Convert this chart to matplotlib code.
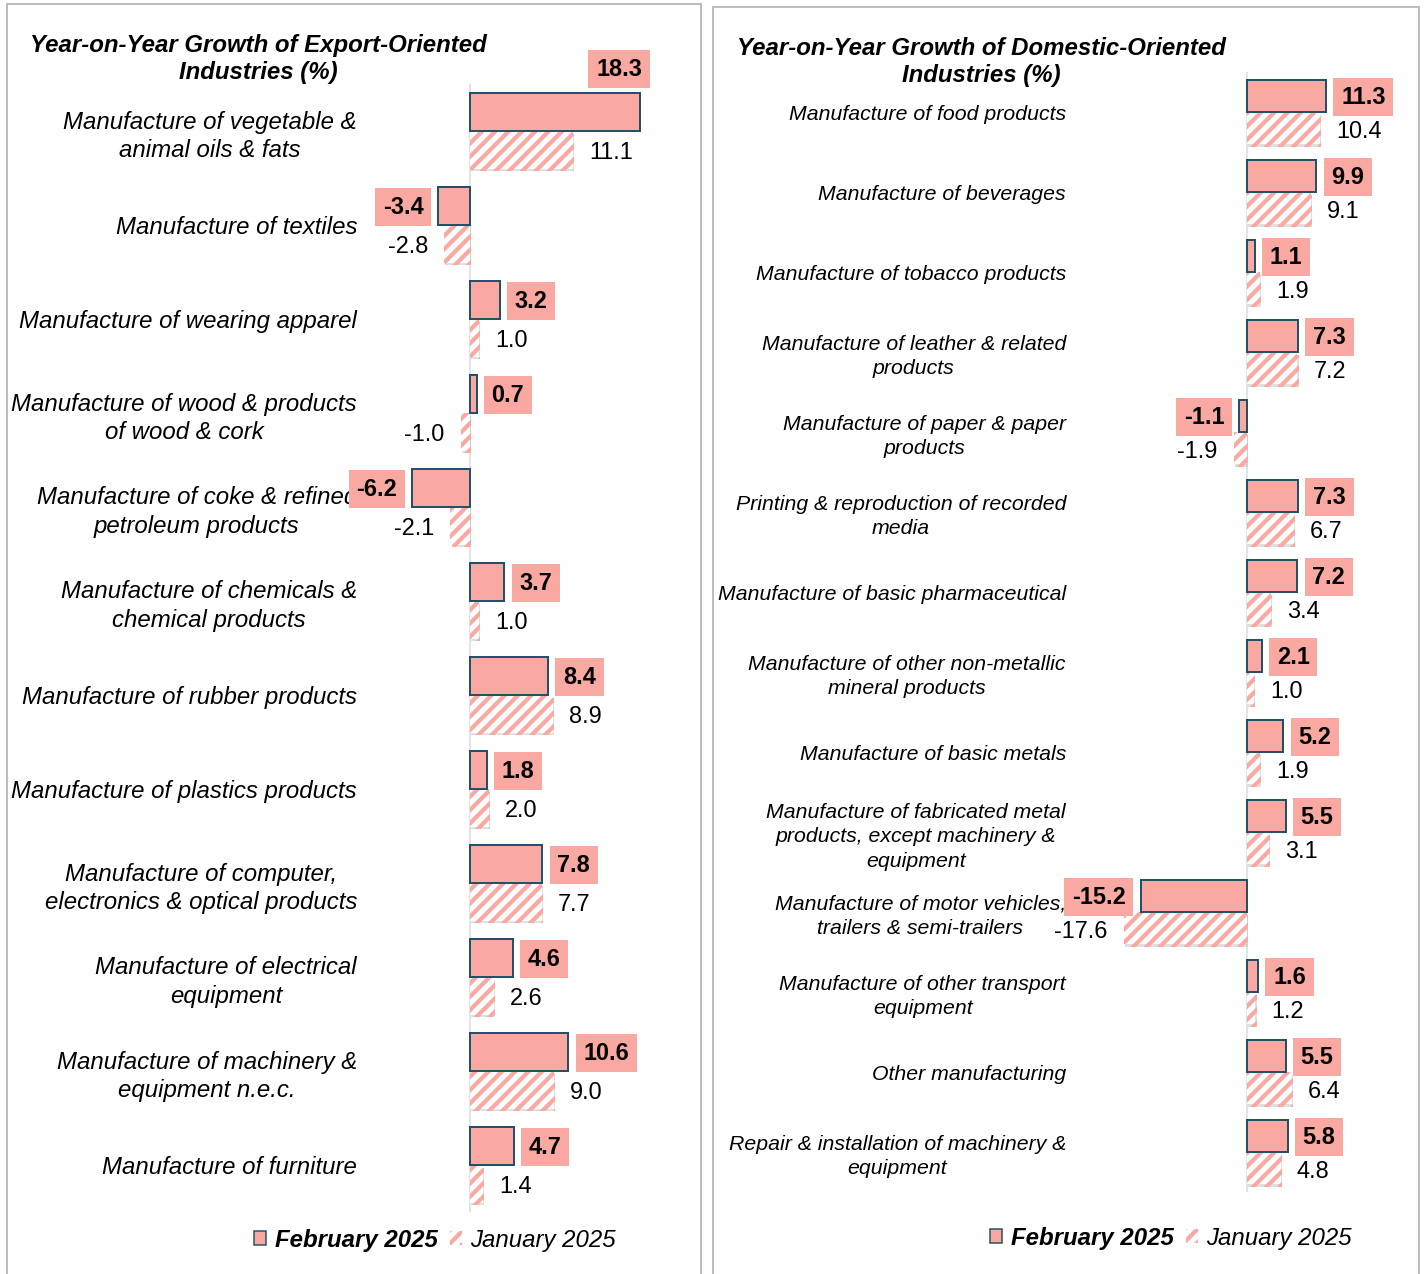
import matplotlib
matplotlib.use('Agg')
import matplotlib.pyplot as plt
import matplotlib.patheffects as pe
from matplotlib.patches import Rectangle, Patch
import numpy as np

DPI = 80
W, H = 1424, 1274
PT = 72 / DPI  # points per pixel

plt.rcParams['font.family'] = ['Liberation Sans', 'DejaVu Sans']
plt.rcParams['hatch.linewidth'] = 4.2 * PT

SALMON = '#F9A8A2'
EDGE = '#24506A'
ZERO = '#D5DCE4'
FRAME = '#BDBDBD'

export_cats = [
    'Manufacture of vegetable &\nanimal oils & fats',
    'Manufacture of textiles',
    'Manufacture of wearing apparel',
    'Manufacture of wood & products\nof wood & cork',
    'Manufacture of coke & refined\npetroleum products',
    'Manufacture of chemicals &\nchemical products',
    'Manufacture of rubber products',
    'Manufacture of plastics products',
    'Manufacture of computer,\nelectronics & optical products',
    'Manufacture of electrical\nequipment',
    'Manufacture of machinery &\nequipment n.e.c.',
    'Manufacture of furniture',
]
export_feb = [18.3, -3.4, 3.2, 0.7, -6.2, 3.7, 8.4, 1.8, 7.8, 4.6, 10.6, 4.7]
export_jan = [11.1, -2.8, 1.0, -1.0, -2.1, 1.0, 8.9, 2.0, 7.7, 2.6, 9.0, 1.4]

domestic_cats = [
    'Manufacture of food products',
    'Manufacture of beverages',
    'Manufacture of tobacco products',
    'Manufacture of leather & related\nproducts',
    'Manufacture of paper & paper\nproducts',
    'Printing & reproduction of recorded\nmedia',
    'Manufacture of basic pharmaceutical',
    'Manufacture of other non-metallic\nmineral products',
    'Manufacture of basic metals',
    'Manufacture of fabricated metal\nproducts, except machinery &\nequipment',
    'Manufacture of motor vehicles,\ntrailers & semi-trailers',
    'Manufacture of other transport\nequipment',
    'Other manufacturing',
    'Repair & installation of machinery &\nequipment',
]
domestic_feb = [11.3, 9.9, 1.1, 7.3, -1.1, 7.3, 7.2, 2.1, 5.2, 5.5, -15.2, 1.6, 5.5, 5.8]
domestic_jan = [10.4, 9.1, 1.9, 7.2, -1.9, 6.7, 3.4, 1.0, 1.9, 3.1, -17.6, 1.2, 6.4, 4.8]

BIG = 24 * PT      # text size used for titles, values, legends
VAL = 23.5 * PT


def px_rect(x0, y0, x1, y1):
    return [x0 / W, 1 - y1 / H, (x1 - x0) / W, (y1 - y0) / H]


def panel(ax, cats, feb, jan, xlim, label_size, label_pad, linesp, shift):
    n = len(cats)
    y = np.arange(n)
    ax.axvline(0, color=ZERO, lw=1.5 * PT, zorder=0)
    ax.barh(y - 0.2, feb, height=0.4, color=SALMON, edgecolor=EDGE,
            linewidth=2 * PT, zorder=3)
    jb = ax.barh(y + 0.2, jan, height=0.4, color='white', edgecolor=SALMON,
                 linewidth=0, hatch='//', zorder=2)
    for b in jb:
        b.set_path_effects([pe.SimplePatchShadow(offset=(1.0, -2.5), shadow_rgbFace='#999999',
                                                 alpha=0.3), pe.Normal()])

    for i, v in enumerate(feb):
        if i in shift:
            dx, dy = shift[i]
            ha = 'center'
        else:
            dx, dy = (15, -1) if v >= 0 else (-15, -1)
            ha = 'left' if v >= 0 else 'right'
        ax.annotate(f'{v:.1f}', (v, i - 0.2), xytext=(dx, dy), textcoords='offset pixels',
                    ha=ha, va='center', fontsize=VAL, fontweight='bold', zorder=5,
                    bbox=dict(boxstyle='square,pad=0.33', fc=SALMON, ec='none'))
    for i, v in enumerate(jan):
        ax.annotate(f'{v:.1f}', (v, i + 0.2), xytext=(16 if v >= 0 else -16, -3),
                    textcoords='offset pixels', ha='left' if v >= 0 else 'right',
                    va='center', fontsize=VAL, zorder=5)

    ax.set_xlim(*xlim)
    ax.set_ylim(n - 0.5, -0.5)
    ax.set_xticks([])
    ax.set_yticks(y, cats)
    ax.tick_params(axis='y', length=0, pad=label_pad * PT, labelsize=label_size)
    for t in ax.get_yticklabels():
        t.set_fontstyle('italic')
        t.set_multialignment('center')
        t.set_linespacing(linesp)
    for s in ax.spines.values():
        s.set_visible(False)
    ax.patch.set_alpha(0)


fig = plt.figure(figsize=(W / DPI, H / DPI), dpi=DPI)

# panel frames
fig.add_artist(Rectangle((7 / W, -0.01), 694 / W, 1 - 4 / H + 0.01, transform=fig.transFigure,
                         fill=False, ec=FRAME, lw=2 * PT))
fig.add_artist(Rectangle((713 / W, -0.01), 706 / W, 1 - 7 / H + 0.01, transform=fig.transFigure,
                         fill=False, ec=FRAME, lw=2 * PT))

ax1 = fig.add_axes(px_rect(360, 84, 690, 1212))
panel(ax1, export_cats, export_feb, export_jan, (-110 / 9.29, 220 / 9.29),
      24 * PT, 3, 1.3, {0: (-21, 43)})

ax2 = fig.add_axes(px_rect(1070, 72, 1410, 1192))
panel(ax2, domestic_cats, domestic_feb, domestic_jan, (-177 / 7.0, 163 / 7.0),
      21.3 * PT, 4, 1.36, {})

fig.text(258 / W, 1 - 59 / H, 'Year-on-Year Growth of Export-Oriented\nIndustries (%)',
         ha='center', va='center', fontsize=BIG, fontweight='bold', style='italic',
         linespacing=1.25)
fig.text(981 / W, 1 - 62 / H, 'Year-on-Year Growth of Domestic-Oriented\nIndustries (%)',
         ha='center', va='center', fontsize=BIG, fontweight='bold', style='italic',
         linespacing=1.25)

for cx, cy in [(435, 1240), (1171, 1238)]:
    handles = [Patch(fc=SALMON, ec=EDGE, lw=1.5 * PT, label='February 2025'),
               Patch(fc='white', ec=SALMON, lw=0, hatch='//', label='January 2025')]
    leg = fig.legend(handles=handles, loc='center', bbox_to_anchor=(cx / W, 1 - cy / H),
                     ncol=2, frameon=False, prop={'size': BIG, 'style': 'italic'},
                     handlelength=0.5, handleheight=0.5, handletextpad=0.35,
                     columnspacing=0.5, borderpad=0)
    leg.get_texts()[0].set_fontweight('bold')

fig.savefig('out.png', dpi=DPI)
